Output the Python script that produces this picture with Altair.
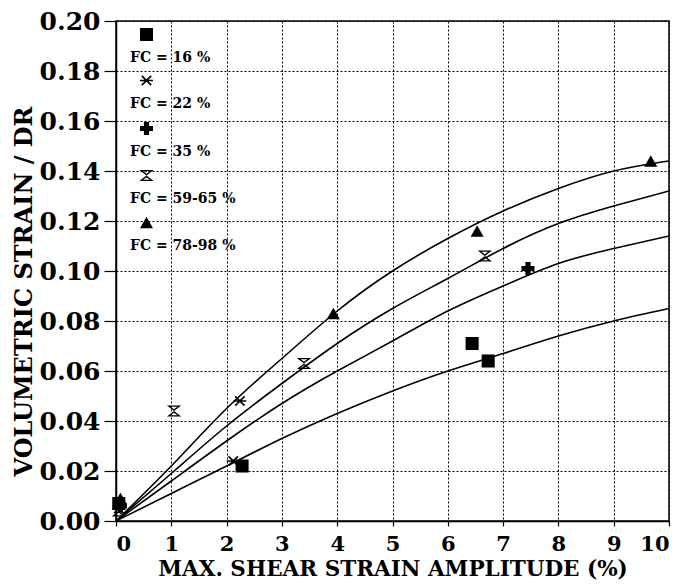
import altair as alt
import pandas as pd

series = ["FC = 16 %", "FC = 22 %", "FC = 35 %", "FC = 59-65 %", "FC = 78-98 %"]

# measured points per fines content
sq_x = [0.05, 2.28, 6.44, 6.73]
sq_y = [0.007, 0.022, 0.071, 0.064]
st_x = [0.05, 2.12, 2.24]
st_y = [0.005, 0.024, 0.048]
pl_x = [0.08, 7.45]
pl_y = [0.006, 0.101]
hg_x = [0.05, 1.05, 3.40, 6.67]
hg_y = [0.004, 0.044, 0.063, 0.106]
tr_x = [0.08, 3.93, 6.53, 9.67]
tr_y = [0.009, 0.083, 0.116, 0.144]

# fitted curves read at integer strain values
curve_x = [0, 1, 2, 3, 4, 5, 6, 7, 8, 9, 10]
curve_a = [0, 0.011, 0.022, 0.033, 0.043, 0.052, 0.060, 0.067, 0.074, 0.080, 0.085]
curve_b = [0, 0.016, 0.032, 0.047, 0.060, 0.072, 0.084, 0.094, 0.103, 0.109, 0.114]
curve_c = [0, 0.019, 0.038, 0.055, 0.071, 0.085, 0.097, 0.109, 0.119, 0.126, 0.132]
curve_d = [0, 0.022, 0.045, 0.065, 0.084, 0.100, 0.113, 0.124, 0.133, 0.140, 0.144]

# marker glyphs drawn as filled outlines so that they also show in the legend
ASTERISK = ("M-1,-0.13L1,-0.13L1,0.13L-1,0.13Z"
            "M-0.63,-0.81L0.81,0.63L0.63,0.81L-0.81,-0.63Z"
            "M-0.81,0.63L0.63,-0.81L0.81,-0.63L-0.63,0.81Z")
HOURGLASS = ("M-1.1,-0.85L1.1,-0.85L0,0Z M-0.51,-0.64L0,-0.25L0.51,-0.64Z"
             "M0,0L1.1,0.85L-1.1,0.85Z M0,0.25L-0.51,0.64L0.51,0.64Z")
shapes = ["square", ASTERISK, "cross", HOURGLASS, "triangle-up"]

rows = []
for name, xs, ys in zip(series, [sq_x, st_x, pl_x, hg_x, tr_x], [sq_y, st_y, pl_y, hg_y, tr_y]):
    for x, y in zip(xs, ys):
        rows.append({"FC": name, "x": x, "y": y})
pts = pd.DataFrame(rows)

crows = []
for cid, ys in zip(["a", "b", "c", "d"], [curve_a, curve_b, curve_c, curve_d]):
    for x, y in zip(curve_x, ys):
        crows.append({"curve": cid, "x": x, "y": y})
cdf = pd.DataFrame(crows)

FONT = "DejaVu Serif"

xscale = alt.Scale(domain=[0, 10], nice=False, zero=False)
yscale = alt.Scale(domain=[0, 0.2], nice=False, zero=False)

xaxis = alt.Axis(title="MAX. SHEAR STRAIN AMPLITUDE (%)", values=list(range(0, 11)), format="d",
                 grid=True, tickSize=5, labelPadding=7, labelFontSize=21,
                 titlePadding=4, titleFontSize=21.5)
yaxis = alt.Axis(title="VOLUMETRIC STRAIN / DR", values=[i * 0.02 for i in range(11)], format=".2f",
                 grid=True, tickSize=12, labelPadding=4, labelFontSize=25,
                 titlePadding=3, titleFontSize=24, titleY=270)

lines = alt.Chart(cdf).mark_line(color="black", strokeWidth=1.6, interpolate="natural", clip=True).encode(
    x=alt.X("x:Q", scale=xscale, axis=xaxis),
    y=alt.Y("y:Q", scale=yscale, axis=yaxis),
    detail="curve:N",
)

points = alt.Chart(pts).mark_point(filled=True, color="black", opacity=1, size=170).encode(
    x=alt.X("x:Q", scale=xscale),
    y=alt.Y("y:Q", scale=yscale),
    shape=alt.Shape("FC:N", scale=alt.Scale(domain=series, range=shapes),
                    legend=alt.Legend(orient="none", legendX=23, legendY=6, title=None,
                                      labelExpr="['', datum.label]", labelBaseline="top",
                                      labelAlign="left", labelOffset=alt.ExprRef(expr="-24"),
                                      labelFont=FONT, labelFontWeight="bold", labelFontSize=14,
                                      labelColor="black", rowPadding=7,
                                      symbolFillColor="black", symbolSize=170, symbolOpacity=1)),
)

chart = alt.layer(lines, points).properties(
    width=553, height=500,
    padding={"left": 4, "top": 1, "right": 5, "bottom": 0},
    background="white",
).configure_view(
    stroke="black", strokeWidth=1.5
).configure_axis(
    labelFont=FONT, labelFontWeight="bold", labelColor="black",
    titleFont=FONT, titleFontWeight="bold", titleColor="black",
    domainColor="black", domainWidth=1.5, tickColor="black", tickWidth=1.2,
    gridColor="black", gridDash=[2, 2], gridWidth=1, gridOpacity=1,
)

chart.save("out.html", embed_options={"renderer": "svg", "actions": False})
